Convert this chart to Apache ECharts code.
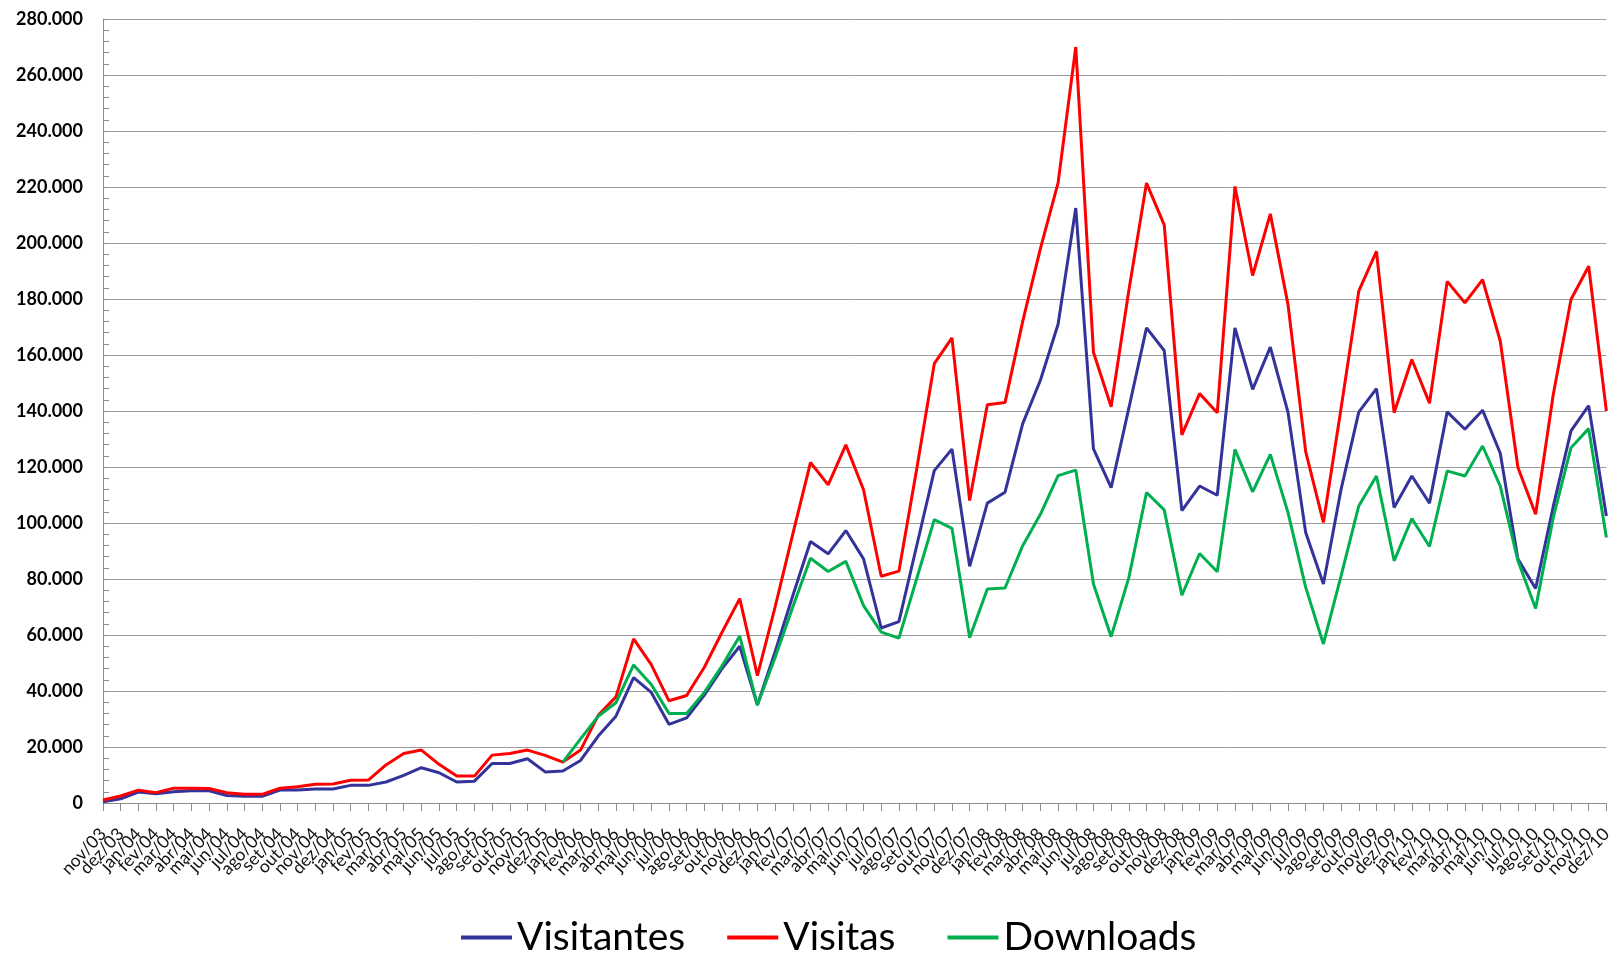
<!DOCTYPE html>
<html>
<head>
<meta charset="utf-8">
<script src="https://cdn.jsdelivr.net/npm/echarts@6/dist/echarts.min.js"></script>
<style>
html,body{margin:0;padding:0;background:#fff;}
#chart{width:1615px;height:953px;}
</style>
</head>
<body>
<div id="chart"></div>
<script>
const months = ['jan','fev','mar','abr','mai','jun','jul','ago','set','out','nov','dez'];
const categories = ['nov/03','dez/03'];
for (let y = 4; y <= 10; y++) {
  for (const m of months) categories.push(m + '/' + String(y).padStart(2,'0'));
}

const visitantes = [
  400,1500,3900,3300,4000,4400,4400,2700,2400,2400,4600,4600,5000,5000,
  6300,6300,7500,9900,12600,10800,7500,7800,14100,14100,15800,11100,
  11400,15200,23900,31000,44800,39500,28100,30400,38500,48000,56000,35000,
  54000,74000,93400,89000,97300,87200,62500,64800,91700,118700,126400,84500,
  107100,111000,135500,151000,171000,212500,126500,112600,141000,169700,161600,104400,
  113200,109900,169700,147700,162800,139500,96600,78200,112000,139600,148000,105500,
  116800,107100,139700,133500,140300,124900,87100,76600,106000,132900,141900,102500
];
const visitas = [
  1100,2500,4600,3700,5300,5300,5200,3700,3100,3100,5300,5800,6700,6800,
  8100,8200,13600,17700,18900,13800,9600,9600,17100,17700,18900,17000,
  14600,18900,31300,37900,58600,49400,36500,38400,48500,61000,73000,45500,
  70000,96000,121600,113600,127900,111900,81000,82800,119000,156900,166100,108000,
  142200,143000,172000,198000,221500,270000,161000,141500,183000,221400,206500,131500,
  146200,139400,220200,188400,210400,178000,125500,100200,141000,182800,197000,139400,
  158400,142800,186300,178600,186900,165000,119800,103100,146000,179800,191700,140000
];
const downloads = [
  null,null,null,null,null,null,null,null,null,null,null,null,null,null,
  null,null,null,null,null,null,null,null,null,null,null,null,
  14600,22900,31000,35800,49300,42300,32000,32000,39500,49000,59600,35000,
  52000,70000,87400,82700,86300,70500,61000,58900,80000,101200,98100,59000,
  76400,76800,91900,103100,116900,118900,78200,59400,80500,110900,104700,74200,
  89100,82600,126300,111100,124500,103700,77000,56800,81100,106100,116800,86500,
  101600,91600,118600,116800,127500,113200,86500,69500,102000,126900,133700,94800
];

const fmt = v => String(v).replace(/\B(?=(\d{3})+(?!\d))/g, '.');

const chart = echarts.init(document.getElementById('chart'), null, {renderer:'canvas'});
const font = 'Lato, "Open Sans", sans-serif';
chart.setOption({
  animation: false,
  backgroundColor: '#fff',
  grid: {left: 103, right: 5, top: 19, bottom: 150, containLabel: false},
  legend: {
    top: 918,
    left: 461,
    padding: 0,
    itemWidth: 51,
    itemHeight: 4,
    itemGap: 42,
    icon: 'rect',
    formatter: name => name === 'Visitas' ? name + ' ' : name,
    textStyle: {fontFamily: font, fontSize: 39, color: '#000'},
    data: ['Visitantes', 'Visitas', 'Downloads']
  },
  xAxis: {
    type: 'category',
    data: categories,
    boundaryGap: false,
    axisLine: {lineStyle: {color: '#8c8c8c', width: 1}},
    axisTick: {show: true, interval: 0, length: 8, lineStyle: {color: '#8c8c8c'}},
    axisLabel: {interval: 0, rotate: 47, fontFamily: font, fontSize: 17.5, color: '#111', margin: 28}
  },
  yAxis: {
    type: 'value',
    min: 0, max: 280000, interval: 20000,
    axisLine: {show: true, lineStyle: {color: '#8c8c8c', width: 1}},
    axisTick: {show: true, inside: true, length: 6, lineStyle: {color: '#8c8c8c'}},
    minorTick: {show: true, splitNumber: 5, length: 6, lineStyle: {color: '#8c8c8c'}},
    splitLine: {show: true, lineStyle: {color: '#9c9c9c', width: 1}},
    axisLabel: {formatter: fmt, fontFamily: font, fontSize: 18, fontWeight: 'bold', color: '#000', margin: 20}
  },
  series: [
    {name: 'Visitantes', type: 'line', data: visitantes, showSymbol: false, symbol: 'none',
     lineStyle: {color: '#333399', width: 3}, itemStyle: {color: '#333399'}},
    {name: 'Visitas', type: 'line', data: visitas, showSymbol: false, symbol: 'none',
     lineStyle: {color: '#ff0000', width: 3}, itemStyle: {color: '#ff0000'}},
    {name: 'Downloads', type: 'line', data: downloads, showSymbol: false, symbol: 'none',
     lineStyle: {color: '#00b050', width: 3}, itemStyle: {color: '#00b050'}}
  ]
});
</script>
</body>
</html>
